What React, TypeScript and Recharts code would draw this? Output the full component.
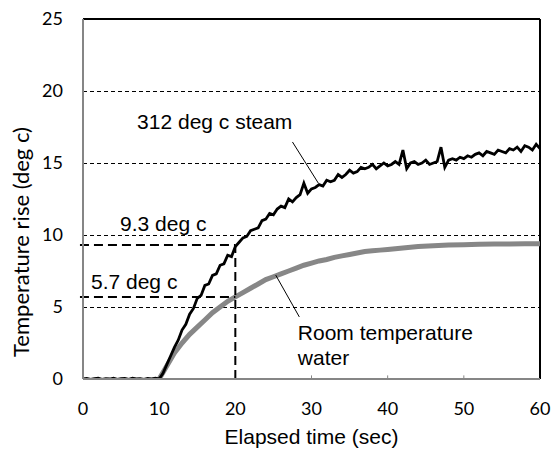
import { LineChart, Line, XAxis, YAxis, CartesianGrid, ReferenceLine, ReferenceDot, Label } from 'recharts';

// steam curve, sampled every 0.5 sec from 0 to 60
const steamTemp = [
  0, 0.04, -0.03, 0.02, 0.05, -0.02, 0.03, 0, 0.06, -0.03, 0.02, 0.04, -0.02, 0.05, 0, 0.03, -0.03, 0.04, 0.01, 0.05, 0,
  0.4, 1.0, 1.6, 2.2, 2.7, 3.4, 3.8, 4.5, 4.9, 5.6, 5.8, 6.5, 6.6, 7.2, 7.3, 7.9, 8.0, 8.6, 8.5, 9.2,
  9.5, 9.8, 9.9, 10.3, 10.4, 10.5, 11.0, 11.1, 11.5, 11.4, 11.8, 12.0, 11.9, 12.5, 12.3, 12.6, 12.8, 13.6, 12.9, 13.2,
  13.3, 13.5, 13.4, 13.8, 13.7, 13.8, 14.2, 14.0, 14.2, 14.5, 14.3, 14.4, 14.7, 14.6, 14.7, 14.9, 14.6, 14.8, 15.0, 14.8,
  14.9, 15.1, 14.9, 15.9, 14.6, 15.0, 15.1, 14.9, 15.0, 15.2, 14.9, 15.0, 15.1, 16.1, 14.7, 15.2, 15.3, 15.2, 15.4, 15.3,
  15.5, 15.4, 15.6, 15.7, 15.5, 15.8, 15.7, 15.6, 15.9, 15.8, 15.7, 16.0, 15.9, 16.1, 15.8, 16.2, 16.1, 15.9, 16.3, 16.0,
];

const waterTime = [10, 11, 12, 13, 14, 15, 16, 17, 18, 19, 20, 21, 22, 23, 24, 25, 26, 27, 28, 29, 30, 31, 32, 33, 34, 35, 36, 37, 38, 39, 40, 42, 44, 46, 48, 50, 52, 54, 56, 58, 60];
const waterTemp = [0, 0.9, 1.8, 2.5, 3.1, 3.6, 4.1, 4.6, 5.0, 5.4, 5.7, 6.0, 6.3, 6.6, 6.9, 7.1, 7.3, 7.5, 7.7, 7.9, 8.05, 8.2, 8.3, 8.45, 8.55, 8.65, 8.75, 8.85, 8.9, 8.95, 9.0, 9.1, 9.2, 9.25, 9.3, 9.32, 9.35, 9.37, 9.38, 9.4, 9.4];

const xTicks = [0, 10, 20, 30, 40, 50, 60];
const yTicks = [0, 5, 10, 15, 20, 25];
const gridLevels = [5, 10, 15, 20];

const markTime = 20;
const markSteam = 9.3;
const markWater = 5.7;

const steamData = steamTemp.map((v, i) => ({ t: i * 0.5, v }));
const waterData = waterTime.map((t, i) => ({ t, v: waterTemp[i] }));

const ARIAL = '"Liberation Sans", Arial, sans-serif';
const CALIBRI = 'Lato, "Noto Sans", sans-serif';

function note(lines: string[], size = 21) {
  return (props: any) => {
    const { x, y } = props.viewBox;
    return (
      <text x={x} y={y} fontFamily={ARIAL} fontSize={size} fill="#000">
        {lines.map((l, i) => (
          <tspan key={i} x={x} dy={i === 0 ? 7.5 : 25}>{l}</tspan>
        ))}
      </text>
    );
  };
}

export default function App() {
  return (
    <div style={{ position: 'absolute', left: 0, top: 0, background: '#fff' }}>
      <LineChart width={552} height={450} margin={{ top: 19, right: 12, bottom: 0, left: 0 }}>
        <CartesianGrid vertical={false} horizontalValues={gridLevels} stroke="#000" strokeDasharray="4 3" strokeWidth={1} shapeRendering="crispEdges" />
        <XAxis
          type="number"
          dataKey="t"
          domain={[0, 60]}
          ticks={xTicks}
          height={71}
          stroke="#868686"
          strokeWidth={2}
          tickLine={false}
          tickMargin={17}
          tick={{ fontFamily: CALIBRI, fontSize: 18, fill: '#000' }}
          allowDataOverflow
        >
          <Label
            content={(p: any) => (
              <text x={p.viewBox.x + p.viewBox.width / 2} y={p.viewBox.y + 65} textAnchor="middle" fontFamily={ARIAL} fontSize={21} fill="#000">
                Elapsed time (sec)
              </text>
            )}
          />
        </XAxis>
        <YAxis
          type="number"
          domain={[0, 25]}
          ticks={yTicks}
          width={83}
          stroke="#868686"
          strokeWidth={2}
          tickLine={false}
          tickMargin={14}
          tick={{ fontFamily: CALIBRI, fontSize: 18, fill: '#000' }}
          allowDataOverflow
        >
          <Label
            content={() => (
              <text x={20} y={242} transform="rotate(-90 20 242)" textAnchor="middle" dominantBaseline="central" fontFamily={CALIBRI} fontSize={22} fill="#000">
                Temperature rise (deg c)
              </text>
            )}
          />
        </YAxis>

        {/* frame: top and right edges */}
        <ReferenceLine y={25} stroke="#000" strokeWidth={2} />
        <ReferenceLine x={60} stroke="#000" strokeWidth={2} />

        {/* small inner ticks on the x axis */}
        {xTicks.slice(1, -1).map((t) => (
          <ReferenceLine key={t} segment={[{ x: t, y: 0 }, { x: t, y: 0.25 }]} stroke="#868686" strokeWidth={1} />
        ))}

        <Line data={waterData} dataKey="v" stroke="#878787" strokeWidth={5} dot={false} isAnimationActive={false} type="linear" />
        <Line data={steamData} dataKey="v" stroke="#000" strokeWidth={2.8} dot={false} isAnimationActive={false} type="linear" />

        {/* 9.3 / 5.7 at 20 sec */}
        <ReferenceLine segment={[{ x: -0.4, y: markSteam }, { x: markTime, y: markSteam }]} stroke="#000" strokeWidth={2} strokeDasharray="9 5" ifOverflow="visible" />
        <ReferenceLine segment={[{ x: -0.4, y: markWater }, { x: markTime, y: markWater }]} stroke="#000" strokeWidth={2} strokeDasharray="9 5" ifOverflow="visible" />
        <ReferenceLine segment={[{ x: markTime, y: 0 }, { x: markTime, y: markSteam }]} stroke="#000" strokeWidth={2} strokeDasharray="9 5" />

        {/* leader lines */}
        <ReferenceLine segment={[{ x: 27.5, y: 16.46 }, { x: 30.9, y: 13.6 }]} stroke="#000" strokeWidth={1} />
        <ReferenceLine segment={[{ x: 25.3, y: 7.22 }, { x: 28.4, y: 4.31 }]} stroke="#000" strokeWidth={1} />

        <ReferenceDot x={7.1} y={17.85} r={0} label={note(['312 deg c steam'])} />
        <ReferenceDot x={4.87} y={10.83} r={0} label={note(['9.3 deg c'])} />
        <ReferenceDot x={1.05} y={6.74} r={0} label={note(['5.7 deg c'])} />
        <ReferenceDot x={28.2} y={3.26} r={0} label={note(['Room temperature', 'water'])} />
      </LineChart>
    </div>
  );
}
